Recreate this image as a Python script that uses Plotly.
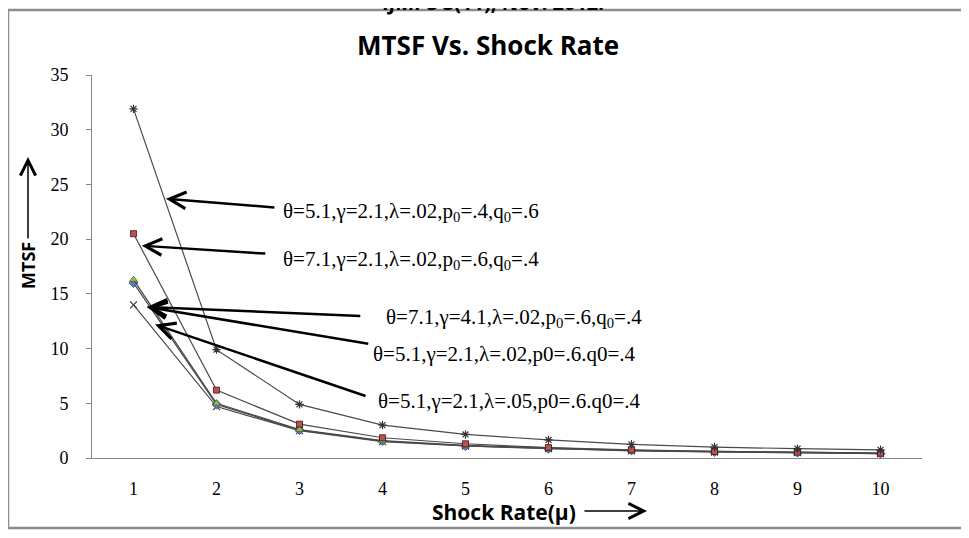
import plotly.graph_objects as go

# ---------------- data ----------------
shock_rate = [1, 2, 3, 4, 5, 6, 7, 8, 9, 10]
x_tick_labels = ["1", "2", "3", "4", "5", "6", "7", "8", "9", "10"]
y_tick_values = [0, 5, 10, 15, 20, 25, 30, 35]

mtsf_theta51_p04 = [31.9, 9.9, 4.9, 3.0, 2.15, 1.65, 1.25, 1.0, 0.85, 0.75]      # star
mtsf_theta71_g21 = [20.5, 6.2, 3.1, 1.85, 1.3, 0.95, 0.75, 0.6, 0.55, 0.45]      # square
mtsf_theta71_g41 = [16.3, 5.0, 2.6, 1.6, 1.15, 0.9, 0.7, 0.6, 0.5, 0.45]         # triangle
mtsf_theta51_l02 = [16.0, 4.9, 2.55, 1.55, 1.1, 0.85, 0.7, 0.55, 0.5, 0.4]       # diamond
mtsf_theta51_l05 = [14.0, 4.7, 2.5, 1.5, 1.1, 0.85, 0.65, 0.55, 0.5, 0.4]        # x

labels = [
    "θ=5.1,γ=2.1,λ=.02,p<sub>0</sub>=.4,q<sub>0</sub>=.6",
    "θ=7.1,γ=2.1,λ=.02,p<sub>0</sub>=.6,q<sub>0</sub>=.4",
    "θ=7.1,γ=4.1,λ=.02,p<sub>0</sub>=.6,q<sub>0</sub>=.4",
    "θ=5.1,γ=2.1,λ=.02,p0=.6.q0=.4",
    "θ=5.1,γ=2.1,λ=.05,p0=.6.q0=.4",
]

# ---------------- layout helpers (page pixel -> paper) ----------------
OFF = 8                       # default body margin of the html page
W, H = 969 - OFF, 538 - OFF   # figure size
PL, PR, PT, PB = 92, 922, 75, 458   # plot area in page pixels


def px(x):
    return (x - PL) / (PR - PL)


def py(y):
    return (PB - y) / (PB - PT)


LINE = "#4a4a4a"
fig = go.Figure()

series = [
    (mtsf_theta51_l05, dict(symbol="x-thin-open", size=7, color="#3a3a3a", line=dict(width=1.2, color="#3a3a3a"))),
    (mtsf_theta51_l02, dict(symbol="diamond", size=7, color="#4F81BD", line=dict(width=0.8, color="#2c4d75"))),
    (mtsf_theta71_g41, dict(symbol="triangle-up", size=7, color="#9BBB59", line=dict(width=0.8, color="#4f6228"))),
    (mtsf_theta71_g21, dict(symbol="square", size=6, color="#C0504D", line=dict(width=0.8, color="#3a1a1a"))),
    (mtsf_theta51_p04, dict(symbol="asterisk-open", size=7, color="#333333", line=dict(width=1.2, color="#333333"))),
]
for vals, mk in series:
    fig.add_trace(go.Scatter(
        x=shock_rate, y=vals, mode="lines+markers",
        line=dict(color=LINE, width=1.2), marker=mk,
        showlegend=False, hoverinfo="skip"))

annotations = []

# label texts
label_pos = [(281, 212), (281, 260), (384, 318), (371, 354), (376, 401)]
for txt, (lx, ly) in zip(labels, label_pos):
    annotations.append(dict(
        x=px(lx), y=py(ly), xref="paper", yref="paper", text=txt, showarrow=False,
        xanchor="left", yanchor="middle",
        font=dict(family="Liberation Serif", size=21, color="#000000")))

# arrows (head in data coords, tail offset in px)
arrow_heads = [(1.39, 23.7), (1.10, 19.4), (1.16, 13.8), (1.16, 13.8), (1.26, 12.2)]
arrow_tails = [(110, 9), (125, 8), (215, 9), (223, 37), (212, 72)]
for (hx, hy), (axp, ayp) in zip(arrow_heads, arrow_tails):
    annotations.append(dict(
        x=hx, y=hy, xref="x", yref="y", ax=axp, ay=ayp, text="",
        showarrow=True, arrowhead=5, arrowsize=1.3, arrowwidth=2.5,
        arrowcolor="#000000", standoff=0, startstandoff=0))

# title
annotations.append(dict(
    x=px(488), y=py(45), xref="paper", yref="paper", text="<b>MTSF Vs. Shock Rate</b>",
    showarrow=False, xanchor="center", yanchor="middle",
    font=dict(family="Open Sans", size=26, color="#000000")))

# cut-off header
annotations.append(dict(
    x=px(493), y=py(2), xref="paper", yref="paper", text="<b>IJMPS 3(11), Nov. 2012.</b>",
    showarrow=False, xanchor="center", yanchor="middle",
    font=dict(family="Open Sans", size=20, color="#000000")))

# x-axis title with arrow
annotations.append(dict(
    x=px(430), y=py(512), xref="paper", yref="paper", text="<b>Shock Rate(μ)</b>",
    showarrow=False, xanchor="left", yanchor="middle",
    font=dict(family="Open Sans", size=21, color="#000000")))
annotations.append(dict(
    x=px(647), y=py(511), xref="paper", yref="paper", ax=-64, ay=0,
    text="", showarrow=True, arrowhead=5,
    arrowsize=2, arrowwidth=1.5, arrowcolor="#000000", standoff=0))

# y-axis title with arrow
annotations.append(dict(
    x=px(28), y=py(266), xref="paper", yref="paper", text="<b>MTSF</b>",
    showarrow=False, xanchor="center", yanchor="middle", textangle=-90,
    font=dict(family="Open Sans", size=18, color="#000000")))
annotations.append(dict(
    x=px(28), y=py(157), xref="paper", yref="paper", ax=0, ay=83,
    text="", showarrow=True, arrowhead=5,
    arrowsize=2, arrowwidth=1.5, arrowcolor="#000000", standoff=0))

# outer frame
shapes = [dict(type="rect", xref="paper", yref="paper",
               x0=px(8), x1=px(963), y0=py(528), y1=py(10),
               line=dict(color="#8c8c8c", width=2.5), fillcolor="rgba(0,0,0,0)")]

fig.update_layout(
    width=W, height=H,
    margin=dict(l=PL - OFF, r=W - (PR - OFF), t=PT - OFF, b=H - (PB - OFF)),
    paper_bgcolor="white", plot_bgcolor="white",
    annotations=annotations, shapes=shapes,
    xaxis=dict(range=[0.5, 10.5], tickvals=shock_rate, ticktext=x_tick_labels,
               showgrid=False, zeroline=False, showline=True, linecolor="#868686",
               linewidth=1, ticks="", ticklabelstandoff=14,
               tickfont=dict(family="Liberation Serif", size=18, color="#000000")),
    yaxis=dict(range=[0, 35], tickvals=y_tick_values, showgrid=False, zeroline=False,
               showline=True, linecolor="#868686", linewidth=1, ticks="outside",
               ticklen=5, tickcolor="#868686", ticklabelstandoff=14,
               tickfont=dict(family="Liberation Serif", size=18, color="#000000")),
)

fig.write_html("out.html")
